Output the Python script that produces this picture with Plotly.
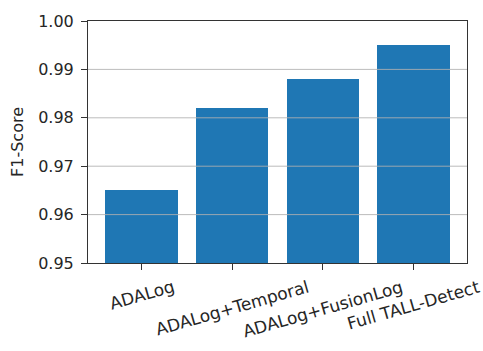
import plotly.graph_objects as go

# Ablation results
variants = ["ADALog", "ADALog+Temporal", "ADALog+FusionLog", "Full TALL-Detect"]
f1_scores = [0.965, 0.982, 0.988, 0.995]
y_ticks = [0.95, 0.96, 0.97, 0.98, 0.99, 1.00]
y_tick_text = ["0.95", "0.96", "0.97", "0.98", "0.99", "1.00"]

FONT = "DejaVu Sans"
BLUE = "#1f77b4"
TXT = "#262626"
x_pos = list(range(len(variants)))

fig = go.Figure(
    go.Bar(
        x=x_pos,
        y=f1_scores,
        width=0.8,
        marker=dict(color=BLUE, line=dict(width=0)),
        hoverinfo="skip",
    )
)

# horizontal grid drawn on top of the bars
for yv in y_ticks[1:-1]:
    fig.add_shape(
        type="line", xref="paper", x0=0, x1=1, yref="y", y0=yv, y1=yv,
        line=dict(color="rgba(176,176,176,0.85)", width=1), layer="above",
    )

# rotated category labels centred under each tick
for xi, name in zip(x_pos, variants):
    fig.add_annotation(
        x=xi, y=0, xref="x", yref="paper", yshift=-11,
        text=name, showarrow=False, textangle=-16,
        xanchor="center", yanchor="top",
        font=dict(family=FONT, size=17, color=TXT),
    )

fig.update_layout(
    width=483, height=351,
    margin=dict(l=88, r=16, t=15, b=88),
    paper_bgcolor="white", plot_bgcolor="white",
    showlegend=False,
    font=dict(family=FONT, size=16, color=TXT),
    bargap=0,
)
fig.update_xaxes(
    range=[-0.59, 3.59],
    tickvals=x_pos, ticktext=[""] * len(variants),
    ticks="outside", ticklen=6, tickwidth=1, tickcolor="#333",
    showline=True, linecolor="#333", linewidth=1, mirror=True,
    showgrid=False, zeroline=False,
)
fig.update_yaxes(
    range=[0.95, 1.00],
    tickvals=y_ticks, ticktext=y_tick_text,
    ticks="outside", ticklen=6, tickwidth=1, tickcolor="#333",
    ticklabelstandoff=4,
    showline=True, linecolor="#333", linewidth=1, mirror=True,
    showgrid=False, zeroline=False,
    title=dict(text="F1-Score", standoff=10, font=dict(size=16)),
    tickfont=dict(size=16),
)

fig.write_html("out.html")
